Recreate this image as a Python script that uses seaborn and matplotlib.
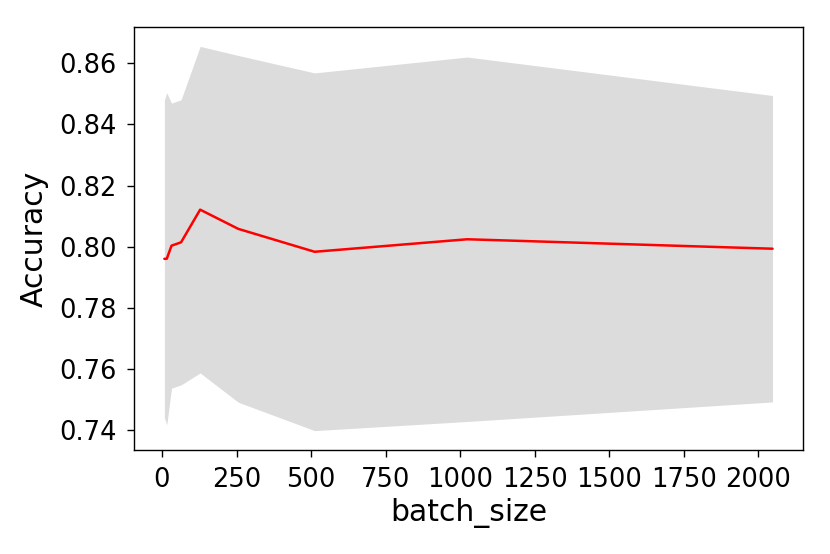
import numpy as np
import pandas as pd
import matplotlib
matplotlib.use("Agg")
import matplotlib.pyplot as plt
import seaborn as sns

# accuracy vs batch size, mean and std over runs
batch_sizes = [8, 16, 32, 64, 128, 256, 512, 1024, 2048]
acc_mean = [0.7960, 0.7960, 0.8003, 0.8014, 0.8121, 0.8058, 0.7983, 0.8024, 0.7993]
acc_std = [0.0520, 0.0544, 0.0467, 0.0467, 0.0535, 0.0568, 0.0586, 0.0597, 0.0502]

df = pd.DataFrame({"batch_size": batch_sizes, "Accuracy": acc_mean, "std": acc_std})

sns.set_style("ticks")
plt.rcParams["font.family"] = ["DejaVu Sans"]

fig = plt.figure(figsize=(8.3, 5.54), dpi=100)
ax = fig.add_axes([0.1614, 0.188, 0.806, 0.763])

ax.fill_between(df["batch_size"], df["Accuracy"] - df["std"], df["Accuracy"] + df["std"],
                color="#dcdcdc", linewidth=0)
sns.lineplot(data=df, x="batch_size", y="Accuracy", color="red", linewidth=1.8, ax=ax)

ax.set_xticks([0, 250, 500, 750, 1000, 1250, 1500, 1750, 2000])
ax.set_yticks([0.74, 0.76, 0.78, 0.80, 0.82, 0.84, 0.86])
ax.yaxis.set_major_formatter(matplotlib.ticker.FormatStrFormatter("%.2f"))
ax.tick_params(labelsize=18.5, length=4.8, width=1.0, pad=7.5,
               color="black", labelcolor="black")
ax.set_xlabel("batch_size", fontsize=21.5, color="black", labelpad=4)
ax.set_ylabel("Accuracy", fontsize=21.5, color="black", labelpad=8)
for s in ax.spines.values():
    s.set_visible(True)
    s.set_color("black")
    s.set_linewidth(1.0)

fig.savefig("out.png", dpi=100)
